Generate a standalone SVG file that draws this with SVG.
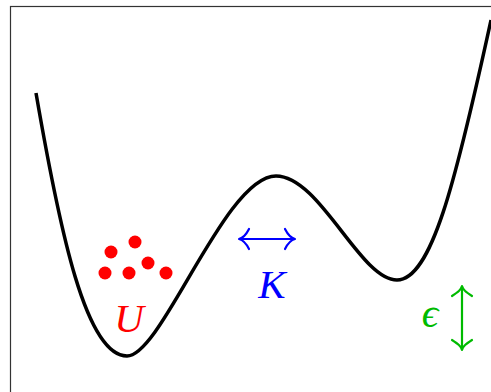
<svg xmlns="http://www.w3.org/2000/svg" width="491" height="392" viewBox="0 0 491 392">
<style>
.frame{fill:none;stroke:#333;stroke-width:1.2}
.curve{fill:none;stroke:#000;stroke-width:3.5;stroke-linecap:butt}
.lbl{font-family:"Liberation Serif","DejaVu Serif",serif;font-style:italic;font-size:41px;text-anchor:middle}
.ar{fill:none;stroke-width:2.2;stroke-linecap:round}
</style>
<rect width="491" height="392" fill="#fff"/>
<rect class="frame" x="10.5" y="6.5" width="500" height="400"/>
<g id="connectors">
<path class="curve" d="M36,93 C60,232 86,356 127,356 C162,356 225,176 276,176 C320,176 360,280 397,280 C431,280 455,185 491,20"/>
</g>
<g id="particles" fill="#ff0000">
<circle cx="111" cy="252" r="6.5"/>
<circle cx="135" cy="242" r="6.5"/>
<circle cx="148" cy="263" r="6.5"/>
<circle cx="105" cy="273" r="6.5"/>
<circle cx="129" cy="273" r="6.5"/>
<circle cx="166" cy="273" r="6.5"/>
</g>
<g id="U"><text class="lbl" x="129" y="332" fill="#ff0000">U</text></g>
<g id="K">
<path class="ar" stroke="#0000ff" d="M239,239 H295 M249,229 C246,235 243,238 239,239 C243,240 246,243 249,249 M285,229 C288,235 291,238 295,239 C291,240 288,243 285,249"/>
<text class="lbl" x="272" y="298" fill="#0000ff">K</text>
</g>
<g id="eps">
<path class="ar" stroke="#00bb00" d="M462,286 V350 M452,296 C458,292 461,290 462,286 C463,290 466,292 472,296 M452,340 C458,344 461,346 462,350 C463,346 466,344 472,340"/>
<text class="lbl" x="430" y="327" fill="#00bb00">ϵ</text>
</g>
</svg>
